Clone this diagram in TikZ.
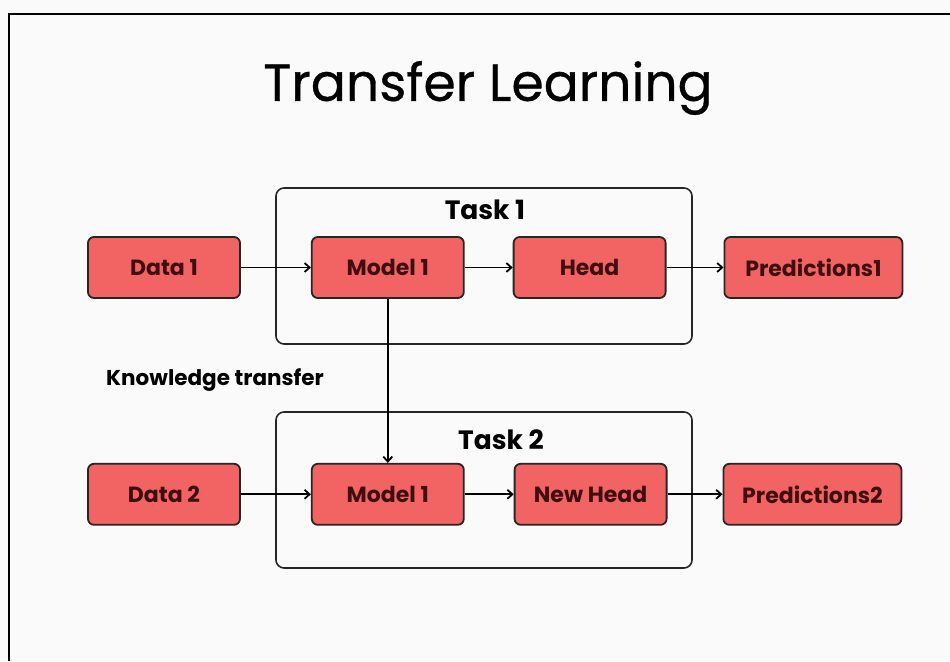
\documentclass[tikz,border=0pt]{standalone}
\usepackage{fontspec}
\setmainfont{Poppins}
\newfontfamily\titlefont{Poppins}[FakeBold=0.6]
\definecolor{boxred}{HTML}{F26464}
\definecolor{boxtext}{HTML}{3F0E0E}
\definecolor{paper}{HTML}{FAFAFA}
\tikzset{
     arrow/.style={-{Straight Barb[length=5pt,width=9pt]},line width=1.8pt},
     block/.style={rectangle,rounded corners=6pt,draw=black!85,line width=1.8pt,fill=boxred,text=boxtext,
       font=\bfseries\fontsize{22}{26}\selectfont,minimum width=152pt,minimum height=61pt,inner sep=0pt},
     taskbox/.style={rectangle,rounded corners=8pt,draw=black!85,line width=1.6pt,minimum width=416pt,minimum height=156pt}
     }
\usetikzlibrary{positioning,arrows.meta}

\begin{document}
\begin{tikzpicture}[x=1pt,y=-1pt]
            % Paper and frame
            \fill[paper] (0,0) rectangle (950,661);
            \useasboundingbox (0,0) rectangle (950,661);
            \draw[line width=2pt] (9,661) -- (9,14) -- (950,14);
            \node[font=\titlefont\fontsize{52}{60}\selectfont] (title) at (488,88) {Transfer Learning};
            % Task frames
            \node[taskbox] (task1) at (484,266) {};
            \node[taskbox] (task2) at (484,490) {};
            \node[font=\bfseries\fontsize{26.5}{30}\selectfont] (task1label) at (485,210) {Task 1};
            \node[font=\bfseries\fontsize{26.5}{30}\selectfont] (task2label) at (501,440) {Task 2};
            % Place nodes
            \node[block] (data1) at (164,267.5) {Data 1};
            \node[block] [right=70pt of data1] (model1) {Model 1};
            \node[block] [right=48pt of model1] (head) {Head};
            \node[block,minimum width=178pt] [right=57pt of head] (pred1) {Predictions1};
            \node[block] [below=164pt of data1] (data2) {Data 2};
            \node[block] [right=70pt of data2] (model2) {Model 1};
            \node[block] [right=49pt of model2] (newhead) {New Head};
            \node[block,minimum width=178pt] [right=55pt of newhead] (pred2) {Predictions2};
            \node[font=\bfseries\fontsize{21.5}{24}\selectfont] (transfer) at (215,380) {Knowledge transfer};
            % Draw edges
            \draw[arrow] (data1) -- (model1);
            \draw[arrow] (model1) -- (head);
            \draw[arrow] (head) -- (pred1);
            \draw[arrow] (data2) -- (model2);
            \draw[arrow] (model2) -- (newhead);
            \draw[arrow] (newhead) -- (pred2);
            \draw[arrow] (model1) -- (model2);
        \end{tikzpicture}
\end{document}
